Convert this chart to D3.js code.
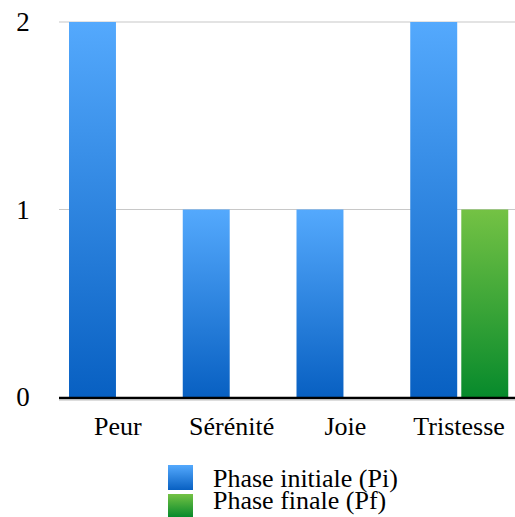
<!DOCTYPE html>
<html><head><meta charset="utf-8">
<script src="https://cdn.jsdelivr.net/npm/d3@7"></script>
<style>body{margin:0;background:#fff}svg{display:block}</style>
</head><body><svg id="c" width="515" height="517"></svg>
<script>
const categories = ["Peur", "Sérénité", "Joie", "Tristesse"];
const series = ["Phase initiale (Pi)", "Phase finale (Pf)"];
const pi = [2, 1, 1, 2];
const pf = [0, 0, 0, 1];
const yTicks = [0, 1, 2];

(function () {
const FONT = "'Liberation Serif', 'DejaVu Serif', serif";
const svg = d3.select("#c");
const defs = svg.append("defs");
const grads = [["gBlue", "#54a9fd", "#0860c2"], ["gGreen", "#74c244", "#078a2c"]];
grads.forEach(([id, t, b]) => {
  const g = defs.append("linearGradient").attr("id", id).attr("x1", 0).attr("y1", 0).attr("x2", 0).attr("y2", 1);
  g.append("stop").attr("offset", "0%").attr("stop-color", t);
  g.append("stop").attr("offset", "100%").attr("stop-color", b);
});

const mLeft = 59, mRight = 514, mTop = 22, mBottom = 397;
const x = d3.scaleBand().domain(categories).range([mLeft, mRight]).paddingInner(0).paddingOuter(0);
const x1 = d3.scaleBand().domain(series).range([10, 108]).paddingInner(0.08);
const y = d3.scaleLinear().domain([0, 2]).range([mBottom, mTop]);

svg.append("g").selectAll("line").data(yTicks.filter(d => d > 0)).join("line")
  .attr("x1", mLeft).attr("x2", 515).attr("y1", d => y(d)).attr("y2", d => y(d))
  .attr("stroke", "#c8c8c8").attr("stroke-width", 1.2);

svg.append("g").selectAll("text").data(yTicks).join("text")
  .attr("x", 23).attr("y", d => y(d) + 9).attr("text-anchor", "middle")
  .attr("font-family", FONT).attr("font-size", 27).text(d => d);

const data = series.map((s, i) => ({ s, vals: i === 0 ? pi : pf, fill: i === 0 ? "url(#gBlue)" : "url(#gGreen)" }));
data.forEach(d => {
  svg.append("g").selectAll("rect").data(categories.map((c, j) => ({ c, v: d.vals[j] })).filter(e => e.v > 0)).join("rect")
    .attr("x", e => x(e.c) + x1(d.s)).attr("width", x1.bandwidth())
    .attr("y", e => y(e.v)).attr("height", e => y(0) - y(e.v))
    .attr("fill", d.fill);
});

svg.append("line").attr("x1", mLeft).attr("x2", 515).attr("y1", mBottom + 1).attr("y2", mBottom + 1)
  .attr("stroke", "#000").attr("stroke-width", 2.5);
svg.append("line").attr("x1", mLeft).attr("x2", 515).attr("y1", mBottom + 3).attr("y2", mBottom + 3)
  .attr("stroke", "#bbb").attr("stroke-width", 1);

svg.append("g").selectAll("text").data(categories).join("text")
  .attr("x", d => x(d) + x.bandwidth() / 2 + 2).attr("y", 435).attr("text-anchor", "middle")
  .attr("font-family", FONT).attr("font-size", 26).text(d => d);

const leg = svg.append("g");
data.forEach((d, i) => {
  const yy = 465 + i * 29;
  leg.append("rect").attr("x", 168).attr("y", yy).attr("width", 25).attr("height", i === 0 ? 25 : 23).attr("fill", d.fill);
  leg.append("text").attr("x", 213).attr("y", 487 + i * 22).attr("font-family", FONT).attr("font-size", 26).text(d.s);
});
})();
</script></body></html>
